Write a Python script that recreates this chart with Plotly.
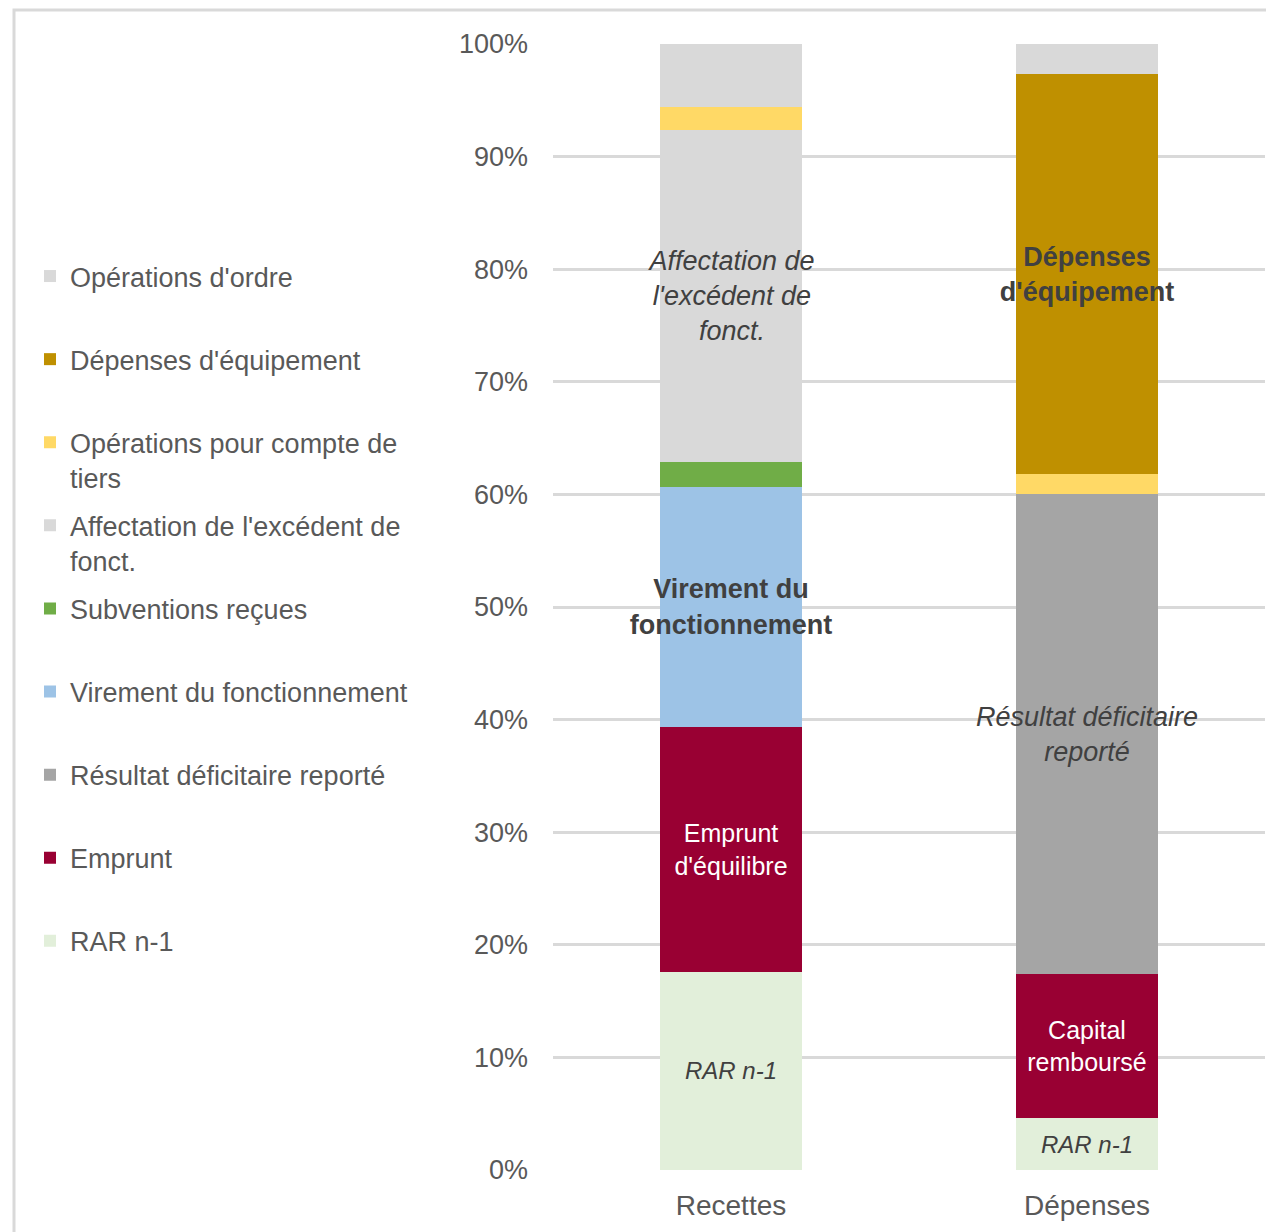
import plotly.graph_objects as go

categories = ["Recettes", "Dépenses"]

# series (bottom to top of stack), values in % of total
series_names = [
    "RAR n-1",
    "Emprunt",
    "Résultat déficitaire reporté",
    "Virement du fonctionnement",
    "Subventions reçues",
    "Affectation de l'excédent de<br>fonct.",
    "Opérations pour compte de<br>tiers",
    "Dépenses d'équipement",
    "Opérations d'ordre",
]
rar = [17.6, 4.6]
emprunt = [21.7, 12.8]
resultat = [None, 42.6]
virement = [21.4, None]
subventions = [2.2, None]
affectation = [29.5, None]
tiers = [2.0, 1.8]
equipement = [None, 35.5]
ordre = [5.6, 2.7]

# in-bar labels
lab_rar = ["RAR n-1", "RAR n-1"]
lab_emprunt = ["Emprunt<br>d'équilibre", "Capital<br>remboursé"]
lab_resultat = ["", "Résultat déficitaire<br>reporté"]
lab_virement = ["Virement du<br>fonctionnement", ""]
lab_subv = ["", ""]
lab_affect = ["Affectation de<br>l'excédent de<br>fonct.", ""]
lab_tiers = ["", ""]
lab_equip = ["", "Dépenses<br>d'équipement"]
lab_ordre = ["", ""]

values = [rar, emprunt, resultat, virement, subventions, affectation, tiers, equipement, ordre]
labels = [lab_rar, lab_emprunt, lab_resultat, lab_virement, lab_subv, lab_affect, lab_tiers, lab_equip, lab_ordre]
colors = ["#E2EFDA", "#990033", "#A5A5A5", "#9DC3E6", "#70AD47", "#D9D9D9", "#FFD966", "#BF9000", "#D9D9D9"]
txtstyle = [
    dict(color="#404040", style="italic", weight="normal", size=24),
    dict(color="#FFFFFF", style="normal", weight="normal", size=25),
    dict(color="#404040", style="italic", weight="normal", size=27),
    dict(color="#404040", style="normal", weight="bold", size=27),
    dict(color="#404040", style="normal", weight="normal", size=25),
    dict(color="#404040", style="italic", weight="normal", size=27),
    dict(color="#404040", style="normal", weight="normal", size=25),
    dict(color="#404040", style="normal", weight="bold", size=27),
    dict(color="#404040", style="normal", weight="normal", size=25),
]

FONT = "Liberation Sans"
OFF = 8  # page body margin
W, H = 1274, 1232
# plot area in screen pixels (reference): x 553..1265, y 44..1170
SL, SR, ST, SB = 553, 1265, 44, 1170
L = SL - OFF
T = ST - OFF
R = W - (SR - OFF)
B = H - (SB - OFF)
PW, PH = W - L - R, H - T - B

def px_x(xs):
    return (xs - OFF - L) / PW

def px_y(ys):
    return (H - B - (ys - OFF)) / PH

fig = go.Figure()
n = len(series_names)
for i in range(n):
    leg_idx = n - i  # top legend entry = last trace
    leg_name = "legend" if leg_idx == 1 else f"legend{leg_idx}"
    fig.add_trace(go.Bar(
        name=series_names[i],
        x=categories,
        y=values[i],
        marker=dict(color=colors[i], line=dict(width=0)),
        text=labels[i],
        textposition="inside",
        insidetextanchor="middle",
        textangle=0,
        constraintext="none",
        textfont=dict(family=FONT, **txtstyle[i]),
        hoverinfo="skip",
        legend=leg_name,
        showlegend=True,
    ))

layout_legends = {}
first_line_centers = [277 + k * 83.1 for k in range(n)]
for k in range(n):
    key = "legend" if k == 0 else f"legend{k + 1}"
    layout_legends[key] = dict(
        x=px_x(30), y=px_y(first_line_centers[k] - 25),
        xanchor="left", yanchor="top",
        bgcolor="rgba(0,0,0,0)",
        font=dict(family=FONT, size=27, color="#595959"),
        valign="top",
        itemclick=False, itemdoubleclick=False,
        visible=True,
    )

fig.update_layout(
    width=W, height=H,
    margin=dict(l=L, r=R, t=T, b=B, autoexpand=False),
    barmode="stack",
    bargap=0.6,
    showlegend=True,
    plot_bgcolor="white",
    paper_bgcolor="white",
    font=dict(family=FONT, size=25, color="#595959"),
    xaxis=dict(
        showgrid=False, showline=False, zeroline=False, ticks="",
        tickfont=dict(family=FONT, size=28, color="#595959"),
        ticklabelstandoff=16,
    ),
    yaxis=dict(
        range=[0, 100], dtick=10, ticksuffix="%",
        showgrid=True, gridcolor="#D9D9D9", gridwidth=2.5,
        zeroline=False, showline=False, ticks="",
        tickfont=dict(family=FONT, size=27, color="#595959"),
        ticklabelstandoff=24,
    ),
    uniformtext=dict(mode=False),
    shapes=[dict(
        type="rect", xref="paper", yref="paper",
        x0=px_x(14), x1=px_x(1300), y0=px_y(1260), y1=px_y(10),
        line=dict(color="#D9D9D9", width=3), fillcolor="rgba(0,0,0,0)", layer="below",
    )],
    **layout_legends,
)

fig.write_html("out.html")
